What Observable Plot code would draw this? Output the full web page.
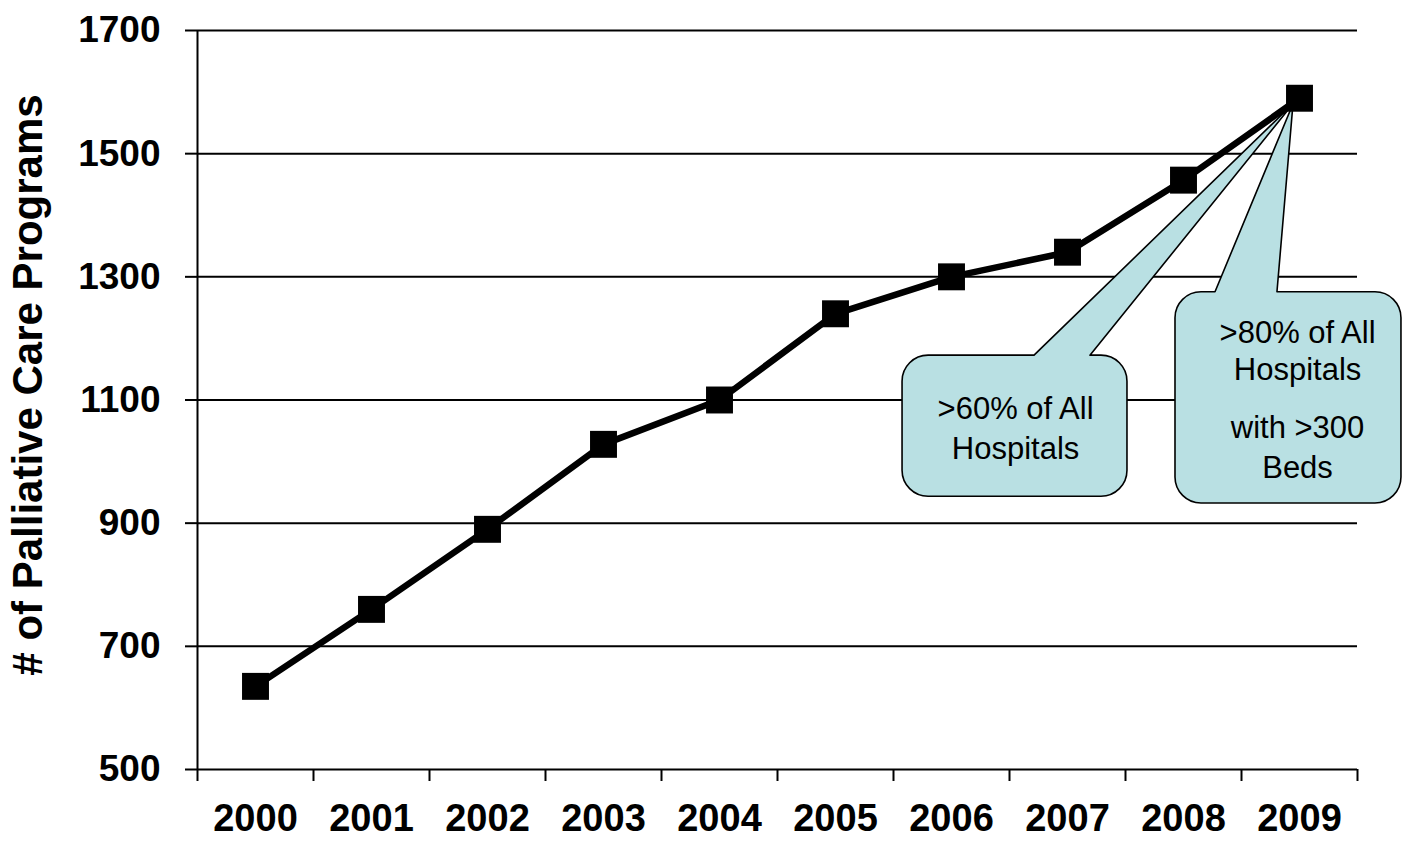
<!DOCTYPE html>
<html>
<head>
<meta charset="utf-8">
<script src="https://cdn.jsdelivr.net/npm/d3@7"></script>
<script src="https://cdn.jsdelivr.net/npm/@observablehq/plot@0.6"></script>
<style>
  html, body { margin: 0; padding: 0; background: #ffffff; }
  #chart svg { display: block; font-family: "Liberation Sans", Arial, sans-serif; }
</style>
</head>
<body>
<div id="chart"></div>
<script>
// ---- data ----
const years = [2000, 2001, 2002, 2003, 2004, 2005, 2006, 2007, 2008, 2009];
const programs = [635, 760, 890, 1028, 1100, 1240, 1300, 1340, 1457, 1590];
const yTicks = [500, 700, 900, 1100, 1300, 1500, 1700];
const xBoundaries = [1999.5, 2000.5, 2001.5, 2002.5, 2003.5, 2004.5, 2005.5, 2006.5, 2007.5, 2008.5, 2009.5];
const yLabel = "# of Palliative Care Programs";

// callouts (annotation boxes in data coordinates, pointing at the 2009 value)
const callouts = [
  {x1: 2005.578, x2: 2007.517, y1: 1172, y2: 943, b1: 2006.716, b2: 2007.198},
  {x1: 2007.931, x2: 2009.879, y1: 1275, y2: 932, b1: 2008.276, b2: 2008.810}
];
const calloutLines = [
  {x: 2006.552, y: 1086, text: ">60% of All"},
  {x: 2006.552, y: 1021, text: "Hospitals"},
  {x: 2008.983, y: 1208, text: ">80% of All"},
  {x: 2008.983, y: 1148, text: "Hospitals"},
  {x: 2008.983, y: 1055, text: "with >300"},
  {x: 2008.983, y: 990, text: "Beds"}
];

const data = years.map((y, i) => ({year: y, value: programs[i]}));
const tip = {x: years[years.length - 1], y: programs[programs.length - 1]};

function calloutMark(index, scales) {
  const g = d3.create("svg:g");
  const r = 26;
  for (const c of callouts) {
    const x1 = scales.x(c.x1), x2 = scales.x(c.x2);
    const y1 = scales.y(c.y1), y2 = scales.y(c.y2);
    const b1 = scales.x(c.b1), b2 = scales.x(c.b2);
    const tx = scales.x(tip.x) - 6, ty = scales.y(tip.y) + 6;
    const d = `M${x1 + r},${y1} L${b1},${y1} L${tx},${ty} L${b2},${y1} L${x2 - r},${y1}` +
      ` A${r},${r} 0 0 1 ${x2},${y1 + r} L${x2},${y2 - r} A${r},${r} 0 0 1 ${x2 - r},${y2}` +
      ` L${x1 + r},${y2} A${r},${r} 0 0 1 ${x1},${y2 - r} L${x1},${y1 + r} A${r},${r} 0 0 1 ${x1 + r},${y1} Z`;
    g.append("path").attr("d", d).attr("fill", "#b9e0e3").attr("stroke", "#000").attr("stroke-width", 1.6).attr("stroke-linejoin", "round");
  }
  return g.node();
}

const chart = Plot.plot({
  width: 1402,
  height: 841,
  marginLeft: 197,
  marginRight: 45,
  marginTop: 30,
  marginBottom: 72,
  style: {background: "#ffffff", color: "#000", fontFamily: "'Liberation Sans', Arial, sans-serif"},
  x: {type: "linear", domain: [1999.5, 2009.5], label: null},
  y: {domain: [500, 1700], label: null},
  marks: [
    Plot.gridY(yTicks, {stroke: "#000", strokeOpacity: 1, strokeWidth: 2}),
    Plot.axisY(yTicks, {tickSize: 12, tickPadding: 25, fontSize: 37, fontWeight: "bold", tickFormat: d => String(d), stroke: "#000", strokeWidth: 2, label: null}),
    Plot.ruleX([1999.5], {stroke: "#000", strokeWidth: 2}),
    Plot.axisX(xBoundaries, {tickSize: 12, tickFormat: () => "", stroke: "#000", strokeWidth: 2, label: null}),
    Plot.axisX(years, {tickSize: 0, tickPadding: 35, fontSize: 38, fontWeight: "bold", tickFormat: d => String(d), label: null}),
    Plot.text([yLabel], {frameAnchor: "left", text: d => d, rotate: -90, textAnchor: "middle", dx: -169, dy: -15, fontSize: 42, fontWeight: "bold", fill: "#000"}),
    calloutMark,
    Plot.line(data, {x: "year", y: "value", stroke: "#000", strokeWidth: 6.5}),
    Plot.dot(data, {x: "year", y: "value", symbol: "square", r: 15.2, fill: "#000", stroke: "none"}),
    Plot.text(calloutLines, {x: "x", y: "y", text: "text", fontSize: 31, fill: "#000"})
  ]
});
document.getElementById("chart").appendChild(chart);
</script>
</body>
</html>
